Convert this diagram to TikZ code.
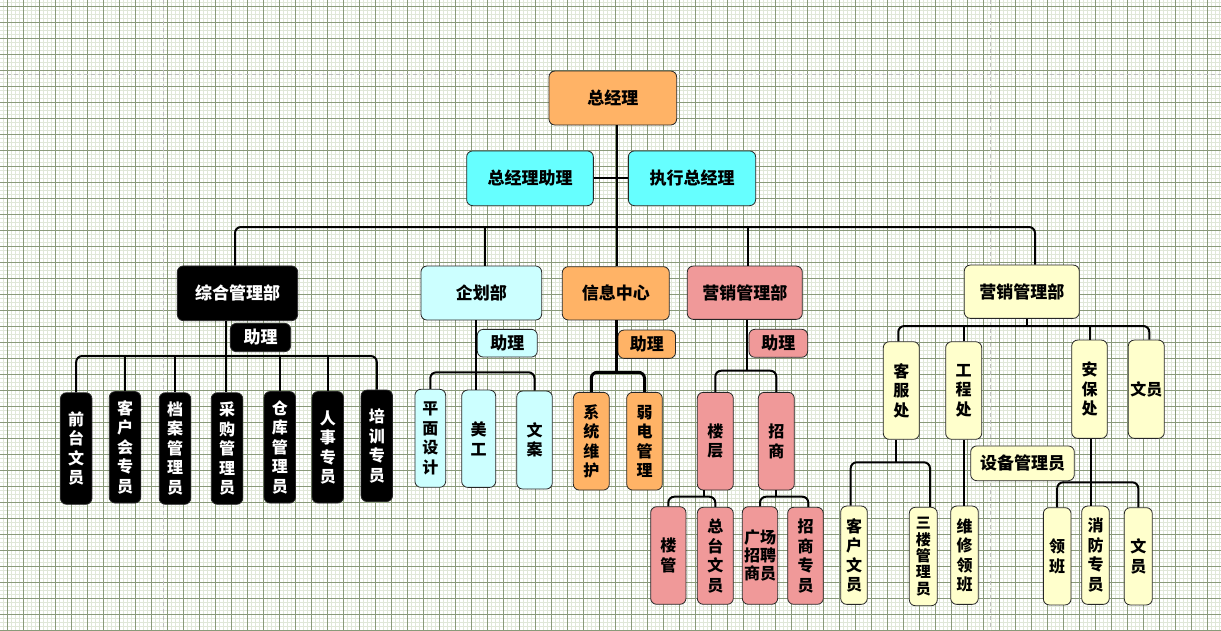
\documentclass[tikz,border=0pt]{standalone}
\usepackage{fontspec}
\newfontfamily\cjk{Noto Sans CJK SC}
\definecolor{org}{HTML}{FFB366}
\definecolor{cyn}{HTML}{66FFFF}
\definecolor{lcyn}{HTML}{CCFFFF}
\definecolor{pnk}{HTML}{F09999}
\definecolor{ylw}{HTML}{FFFFCC}
\definecolor{minorg}{RGB}{224,231,216}
\definecolor{majorg}{RGB}{138,154,122}
\definecolor{pagebr}{RGB}{190,190,190}
\tikzset{
  box/.style={draw=black!85, line width=0.8, rounded corners=6, inner sep=0, align=center,
    font=\cjk\bfseries\fontsize{16}{19.5}\selectfont, text=black},
  hbox/.style={box, font=\cjk\bfseries\fontsize{17}{20}\selectfont},
  sz/.style 2 args={minimum width=#1, minimum height=#2},
  blk/.style={fill=black, text=white},
  conn/.style={line width=2, draw=black},
  bus/.style={conn, rounded corners=6},
  minorline/.style={draw=minorg, line width=1},
  majorline/.style={draw=majorg, line width=0.9},
}
\begin{document}
\begin{tikzpicture}[x=1pt,y=-1pt]
\useasboundingbox (0,0) rectangle (1221,630);
\fill[white] (0,0) rectangle (1221,630);
% grid
\foreach \i in {0,...,305} \draw[minorline] ({3.3+4*\i},0) -- ({3.3+4*\i},630);
\foreach \i in {0,...,158} \draw[minorline] (0,{2.7+4*\i}) -- (1221,{2.7+4*\i});
\foreach \i in {0,...,76} \draw[majorline] ({7.3+16*\i},0) -- ({7.3+16*\i},630);
\foreach \i in {0,...,39} \draw[majorline] (0,{6.7+16*\i}) -- (1221,{6.7+16*\i});
\draw[pagebr, line width=1, dash pattern=on 4pt off 3pt] (0,74) -- (1221,74);
\draw[pagebr, line width=1, dash pattern=on 4pt off 3pt] (163,0) -- (163,630);
\draw[pagebr, line width=1, dash pattern=on 4pt off 3pt] (990,0) -- (990,630);

% top
\node[hbox, fill=org, sz={127.7}{54}] (GM) at (612.8,98) {总经理};
\node[hbox, fill=cyn, sz={126.7}{54.7}] (AS) at (530,178.3) {总经理助理};
\node[hbox, fill=cyn, sz={127.3}{54.7}] (EX) at (692,178.3) {执行总经理};

% departments
\node[hbox, blk, sz={120.3}{54.7}] (ZH) at (237.5,293.3) {综合管理部};
\node[hbox, blk, sz={60.3}{28.3}] (ZHa) at (260.5,337.5) {助理};
\node[hbox, fill=lcyn, sz={120.7}{54}] (QH) at (481.3,293) {企划部};
\node[hbox, fill=lcyn, sz={60}{27.7}] (QHa) at (507.3,343.2) {助理};
\node[hbox, fill=org, sz={107}{53.3}] (XX) at (615.8,293.3) {信息中心};
\node[hbox, fill=org, sz={57.5}{28.3}] (XXa) at (646.8,344.2) {助理};
\node[hbox, fill=pnk, sz={115}{53.3}] (YX) at (744.8,292.7) {营销管理部};
\node[hbox, fill=pnk, sz={58.7}{28}] (YXa) at (778.3,343.3) {助理};
\node[hbox, fill=ylw, sz={115}{53.3}] (YY) at (1021.8,291.7) {营销管理部};

% ZH children
\node[box, blk, sz={31.5}{111.5}] (ZH1) at (76.2,448.5) {前\\台\\文\\员};
\node[box, blk, sz={31.5}{111.5}] (ZH2) at (125,447.3) {客\\户\\会\\专\\员};
\node[box, blk, sz={31.5}{111.5}] (ZH3) at (175,448.5) {档\\案\\管\\理\\员};
\node[box, blk, sz={31.5}{111.5}] (ZH4) at (227,448.5) {采\\购\\管\\理\\员};
\node[box, blk, sz={31.5}{111.5}] (ZH5) at (279.8,447.3) {仓\\库\\管\\理\\员};
\node[box, blk, sz={31.5}{111.5}] (ZH6) at (327.8,447.3) {人\\事\\专\\员};
\node[box, blk, sz={31.5}{111.5}] (ZH7) at (376.8,445.8) {培\\训\\专\\员};

% QH children
\node[box, fill=lcyn, sz={30.7}{98}] (QH1) at (430.3,438.3) {平\\面\\设\\计};
\node[box, fill=lcyn, sz={34}{97.3}] (QH2) at (478.7,438.7) {美\\工};
\node[box, fill=lcyn, sz={35.6}{98}] (QH3) at (534.5,440) {文\\案};

% XX children
\node[box, fill=org, sz={36}{97.7}] (XX1) at (591.3,441.2) {系\\统\\维\\护};
\node[box, fill=org, sz={35.6}{97.7}] (XX2) at (644.5,441.2) {弱\\电\\管\\理};

% YX children
\node[box, fill=pnk, sz={36}{97.7}] (YX1) at (715.3,441.2) {楼\\层};
\node[box, fill=pnk, sz={36}{97.7}] (YX2) at (776.3,441.2) {招\\商};
\node[box, fill=pnk, sz={35.3}{97.6}] (LC1) at (668.3,555.5) {楼\\管};
\node[box, fill=pnk, sz={36}{97}] (LC2) at (715.3,555.8) {总\\台\\文\\员};
\node[box, fill=pnk, sz={35.4}{97.6}, font=\cjk\bfseries\fontsize{16}{18.3}\selectfont] (ZS1) at (760,555.5) {广场\\招聘\\商员};
\node[box, fill=pnk, sz={35.6}{97}] (ZS2) at (805.5,555.8) {招\\商\\专\\员};

% YY children
\node[box, fill=ylw, sz={36}{97.6}] (YY1) at (901.3,390.5) {客\\服\\处};
\node[box, fill=ylw, sz={36}{97.6}] (YY2) at (963.7,390.5) {工\\程\\处};
\node[box, fill=ylw, sz={35.6}{98.3}] (YY3) at (1089.5,389.2) {安\\保\\处};
\node[box, fill=ylw, sz={36}{98.3}] (YY4) at (1146.3,389.2) {文员};
\node[box, fill=ylw, sz={26.6}{98.3}] (KF1) at (854,555.2) {客\\户\\文\\员};
\node[box, fill=ylw, sz={28}{98.4}, font=\cjk\bfseries\fontsize{15}{16.3}\selectfont] (KF2) at (923.3,556.5) {三\\楼\\管\\理\\员};
\node[box, fill=ylw, sz={27.6}{98.3}] (GC1) at (964.5,555.2) {维\\修\\领\\班};
\node[hbox, fill=ylw, sz={103.6}{34.7}] (SB) at (1022.5,463.3) {设备管理员};
\node[box, fill=ylw, sz={27.7}{97.3}] (AB1) at (1057.2,556.3) {领\\班};
\node[box, fill=ylw, sz={27.6}{98.3}] (AB2) at (1095.5,555.2) {消\\防\\专\\员};
\node[box, fill=ylw, sz={28}{97.3}] (AB3) at (1138.3,556.3) {文\\员};

% ---- connectors ----
\coordinate (trunk) at (616.7,0);
\coordinate (busA) at (616.7,227);
\coordinate (dZH) at (235,0);
\coordinate (dQH) at (485,0);
\coordinate (dYX) at (748,0);
\coordinate (dYY) at (1035,0);
\draw[conn] (AS.east) -- (EX.west);
\draw[conn] (GM.south -| trunk) -- (XX.north -| trunk);
\draw[bus] (ZH.north -| dZH) |- (busA) -| (YY.north -| dYY);
\draw[conn] (QH.north -| dQH) -- (dQH |- busA);
\draw[conn] (YX.north -| dYX) -- (dYX |- busA);

% ZH
\coordinate (sZH) at (226,356);
\draw[conn] (ZH.south -| sZH) -- (ZH4.north -| sZH);
\draw[bus] (ZH1.north) |- (sZH) -| (ZH7.north);
\foreach \n in {ZH2,ZH3,ZH5,ZH6} \draw[conn] (\n.north) -- (\n.north |- sZH);

% QH
\coordinate (sQH) at (476,372.3);
\draw[conn] (QH.south -| sQH) -- (QH2.north -| sQH);
\draw[bus] (QH1.north) |- (sQH) -| (QH3.north);

% XX
\coordinate (sXX) at (616.7,372.3);
\draw[conn, line width=3] (XX.south -| sXX) -- (sXX);
\draw[bus, line width=3] (XX1.north) |- (sXX) -| (XX2.north);

% YX
\coordinate (sYX) at (747.3,370.7);
\draw[conn] (YX.south -| sYX) -- (sYX);
\draw[bus] (YX1.north) |- (sYX) -| (YX2.north);
\coordinate (sLC) at (704,496.7);
\draw[conn] (YX1.south -| sLC) -- (sLC);
\draw[bus] (LC1.north) |- (sLC) -| (LC2.north);
\coordinate (sZS) at (776,496.7);
\coordinate (zs2) at (808.3,0);
\draw[conn] (YX2.south -| sZS) -- (sZS);
\draw[bus] (ZS1.north) |- (sZS) -| (ZS2.north -| zs2);

% YY
\coordinate (sYY) at (1026.7,326);
\coordinate (yy1) at (898.3,0);
\coordinate (yy4) at (1149.3,0);
\draw[conn] (YY.south -| sYY) -- (sYY);
\draw[bus] (YY1.north -| yy1) |- (sYY) -| (YY4.north -| yy4);
\draw[conn] (YY2.north) -- (YY2.north |- sYY);
\draw[conn] (YY3.north) -- (YY3.north |- sYY);
\coordinate (sKF) at (895.7,462.3);
\coordinate (kf1) at (850.7,0);
\coordinate (kf2) at (930,0);
\draw[conn] (YY1.south -| sKF) -- (sKF);
\draw[bus] (KF1.north -| kf1) |- (sKF) -| (KF2.north -| kf2);
\draw[conn] (YY2.south) -- (YY2.south |- GC1.north);
\coordinate (sAB) at (1091,482.3);
\draw[conn] (YY3.south -| sAB) -- (AB2.north -| sAB);
\draw[bus] (AB1.north) |- (sAB) -| (AB3.north);
\end{tikzpicture}
\end{document}
